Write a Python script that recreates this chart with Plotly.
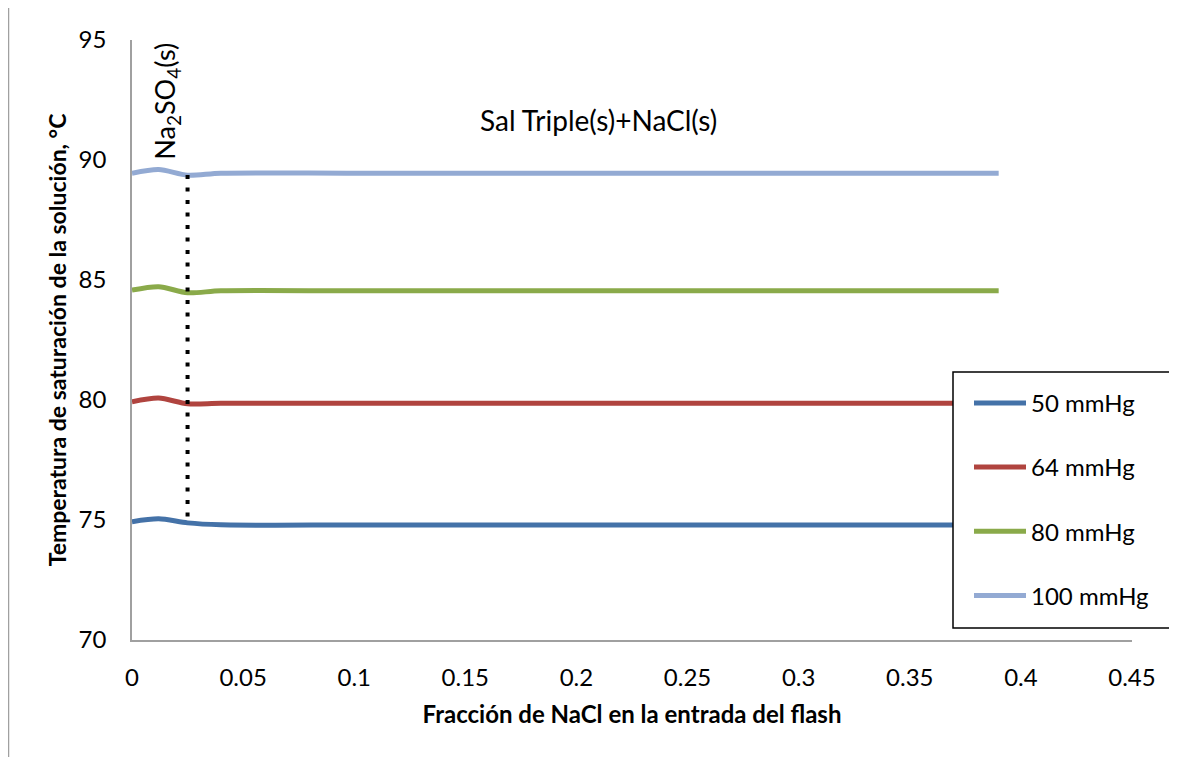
import plotly.graph_objects as go

x_vals = [0.0, 0.012, 0.025, 0.04, 0.1, 0.2, 0.3, 0.39]
y_50 = [74.93, 75.05, 74.88, 74.80, 74.79, 74.79, 74.79, 74.79]
y_64 = [79.93, 80.08, 79.84, 79.86, 79.86, 79.86, 79.86, 79.86]
y_80 = [84.58, 84.72, 84.47, 84.55, 84.55, 84.55, 84.55, 84.55]
y_100 = [89.45, 89.60, 89.37, 89.45, 89.45, 89.45, 89.45, 89.45]
series_names = ["50 mmHg", "64 mmHg", "80 mmHg", "100 mmHg"]
series_colors = ["#4472a8", "#b0443f", "#8aaa4a", "#93aad3"]

boundary_x = [0.025, 0.025]
boundary_y = [89.37, 74.88]

font_family = "Lato, 'Open Sans', sans-serif"

fig = go.Figure()
for i, (name, ys, col) in enumerate(zip(series_names, [y_50, y_64, y_80, y_100], series_colors)):
    fig.add_trace(go.Scatter(
        x=x_vals, y=ys, mode="lines", name=name,
        line=dict(color=col, width=5, shape="spline", smoothing=0.8),
        legendgroup=f"g{i}",
    ))

fig.add_trace(go.Scatter(
    x=boundary_x, y=boundary_y, mode="lines", showlegend=False,
    line=dict(color="black", width=4, dash="4px,8.5px"),
))

fig.add_annotation(x=0.0155, y=92.45, text="Na<sub>2</sub>SO<sub>4</sub>(s)", showarrow=False,
                   textangle=-90, font=dict(size=27, color="black", family=font_family))
fig.add_annotation(x=0.2097, y=91.65, text="Sal Triple(s)+NaCl(s)", showarrow=False,
                   font=dict(size=28, color="black", family=font_family))

# outer chart frame (left edge visible)
fig.add_shape(type="line", xref="paper", yref="paper", x0=-0.1235, x1=-0.1235, y0=-0.3, y1=1.1,
              line=dict(color="#a0a0a0", width=1.5))
# legend frame
fig.add_shape(type="rect", xref="paper", yref="paper", x0=0.821, x1=1.04, y0=0.02, y1=0.4467,
              line=dict(color="black", width=1.5), fillcolor="white", layer="above")

fig.update_layout(
    width=1177, height=757,
    margin=dict(l=124, r=53, t=32, b=125),
    paper_bgcolor="white", plot_bgcolor="white",
    font=dict(family=font_family, size=24, color="black"),
    showlegend=True,
    legend=dict(x=0.837, y=0.432, xanchor="left", yanchor="top",
                borderwidth=0, bgcolor="rgba(0,0,0,0)",
                tracegroupgap=30, font=dict(size=24, family=font_family),
                itemwidth=52),
    xaxis=dict(range=[0, 0.45], dtick=0.05, tick0=0, showgrid=False, zeroline=False,
               showline=True, linecolor="#a0a0a0", linewidth=1.5,
               ticks="", ticklabelstandoff=15, automargin=False,
               tickformat="~g",
               title=dict(text="<b>Fracción de NaCl en la entrada del flash</b>",
                          font=dict(size=24), standoff=17)),
    yaxis=dict(range=[70, 95], dtick=5, showgrid=False, zeroline=False,
               showline=True, linecolor="#a0a0a0", linewidth=1.5,
               ticks="", ticklabelstandoff=19, automargin=False,
               title=dict(text="<b>Temperatura de saturación de la solución, °C</b>",
                          font=dict(size=23), standoff=6)),
)

fig.write_html("out.html")
